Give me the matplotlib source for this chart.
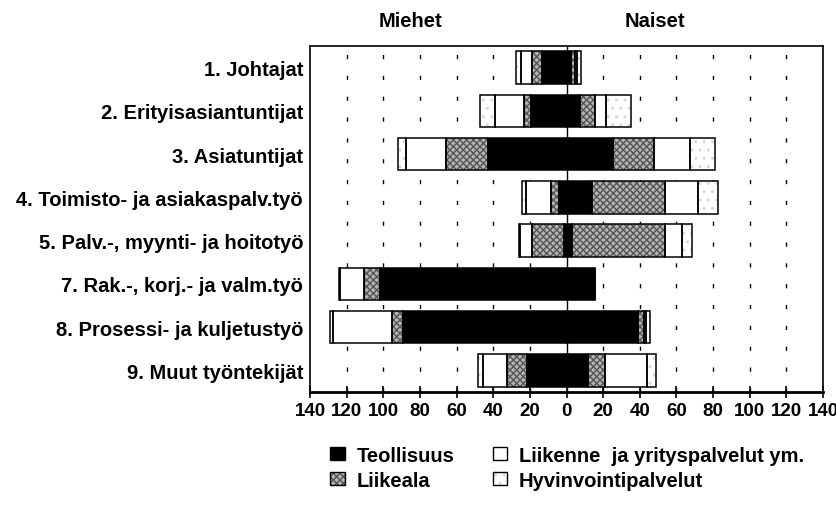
import matplotlib
matplotlib.use("Agg")
import matplotlib.pyplot as plt
import numpy as np
from matplotlib.patches import Patch

plt.rcParams['font.family'] = ['Liberation Sans', 'DejaVu Sans']
plt.rcParams['font.weight'] = 'bold'

# data
categories = ["1. Johtajat", "2. Erityisasiantuntijat", "3. Asiatuntijat",
              "4. Toimisto- ja asiakaspalv.työ", "5. Palv.-, myynti- ja hoitotyö",
              "7. Rak.-, korj.- ja valm.työ", "8. Prosessi- ja kuljetustyö",
              "9. Muut työntekijät"]
series = ["Teollisuus", "Liikeala", "Liikenne  ja yrityspalvelut ym.", "Hyvinvointipalvelut"]

men_teol = [13.3, 19.3, 42.9, 4.2, 1.5, 101.9, 89.2, 21.5]
men_liike = [5.4, 3.8, 22.9, 4.5, 17.3, 8.6, 5.8, 11.2]
men_liik = [6.0, 16.0, 21.6, 13.6, 6.7, 13.2, 32.2, 12.7]
men_hyv = [2.9, 8.2, 4.4, 2.2, 0.5, 0.7, 1.8, 2.7]

women_teol = [2.2, 7.6, 25.4, 14.0, 3.0, 14.8, 39.0, 11.8]
women_liike = [2.2, 7.8, 22.2, 40.0, 50.9, 0.6, 3.1, 9.1]
women_liik = [1.5, 6.4, 20.0, 17.8, 9.0, 0.0, 1.5, 23.1]
women_hyv = [1.8, 13.6, 13.6, 10.7, 5.4, 0.0, 1.8, 5.1]

ticks = [-140, -120, -100, -80, -60, -40, -20, 0, 20, 40, 60, 80, 100, 120, 140]

# styles: (face, hatch, hatch colour)
styles = [('black', None, 'black'),
          ('#b4b4b4', 'xxxxx', '#555555'),
          ('white', None, 'white'),
          ('white', '..', '#d8d8d8')]

fig = plt.figure(figsize=(8.37, 5.06), dpi=100)
ax = fig.add_axes([0.3704, 0.2233, 0.6129, 0.6838])

y = np.arange(len(categories))
h = 0.755

men = [men_teol, men_liike, men_liik, men_hyv]
women = [women_teol, women_liike, women_liik, women_hyv]

for side, sign in ((men, -1), (women, 1)):
    left = np.zeros(len(categories))
    for vals, (fc, hatch, hc) in zip(side, styles):
        v = np.array(vals) * sign
        ax.barh(y, v, left=left, height=h, color=fc, hatch=hatch,
                edgecolor=hc, linewidth=0, zorder=3)
        ax.barh(y, v, left=left, height=h, facecolor='none',
                edgecolor='black', linewidth=1.1, zorder=4)
        left = left + v

# dashed grid and centre line
for t in ticks:
    if t == 0 or abs(t) == 140:
        continue
    ax.axvline(t, color='black', linewidth=1.0, linestyle=(0, (3, 12)), zorder=1)
ax.axvline(0, color='black', linewidth=1.0, zorder=2)

ax.set_xlim(-140, 140)
ax.set_ylim(7.5, -0.5)
ax.set_xticks(ticks)
ax.set_xticklabels([str(abs(t)) for t in ticks], fontsize=13.5, fontweight='bold')
ax.set_yticks(y)
ax.set_yticklabels(categories, fontsize=14.5, fontweight='bold')
ax.tick_params(axis='y', length=0, pad=5)
ax.tick_params(axis='x', direction='inout', length=9, width=1.2, pad=3)
for s in ax.spines.values():
    s.set_linewidth(1.2)
ax.spines['bottom'].set_linewidth(2)

fig.text(0.49, 0.957, "Miehet", ha='center', va='center', fontsize=14.5, fontweight='bold')
fig.text(0.783, 0.957, "Naiset", ha='center', va='center', fontsize=14.5, fontweight='bold')

handles = []
for fc, hatch, hc in styles:
    handles.append((Patch(facecolor=fc, hatch=hatch, edgecolor=hc, linewidth=0),
                    Patch(facecolor='none', edgecolor='black', linewidth=1.0)))
fig.legend(handles, series,
           ncol=2, loc='upper left', bbox_to_anchor=(0.378, 0.145),
           frameon=False, handlelength=0.7, handleheight=0.6,
           handletextpad=0.6, columnspacing=1.9, labelspacing=0.3,
           borderpad=0.2, prop={'weight': 'bold', 'size': 14.5})

fig.savefig("out.png", dpi=100)
